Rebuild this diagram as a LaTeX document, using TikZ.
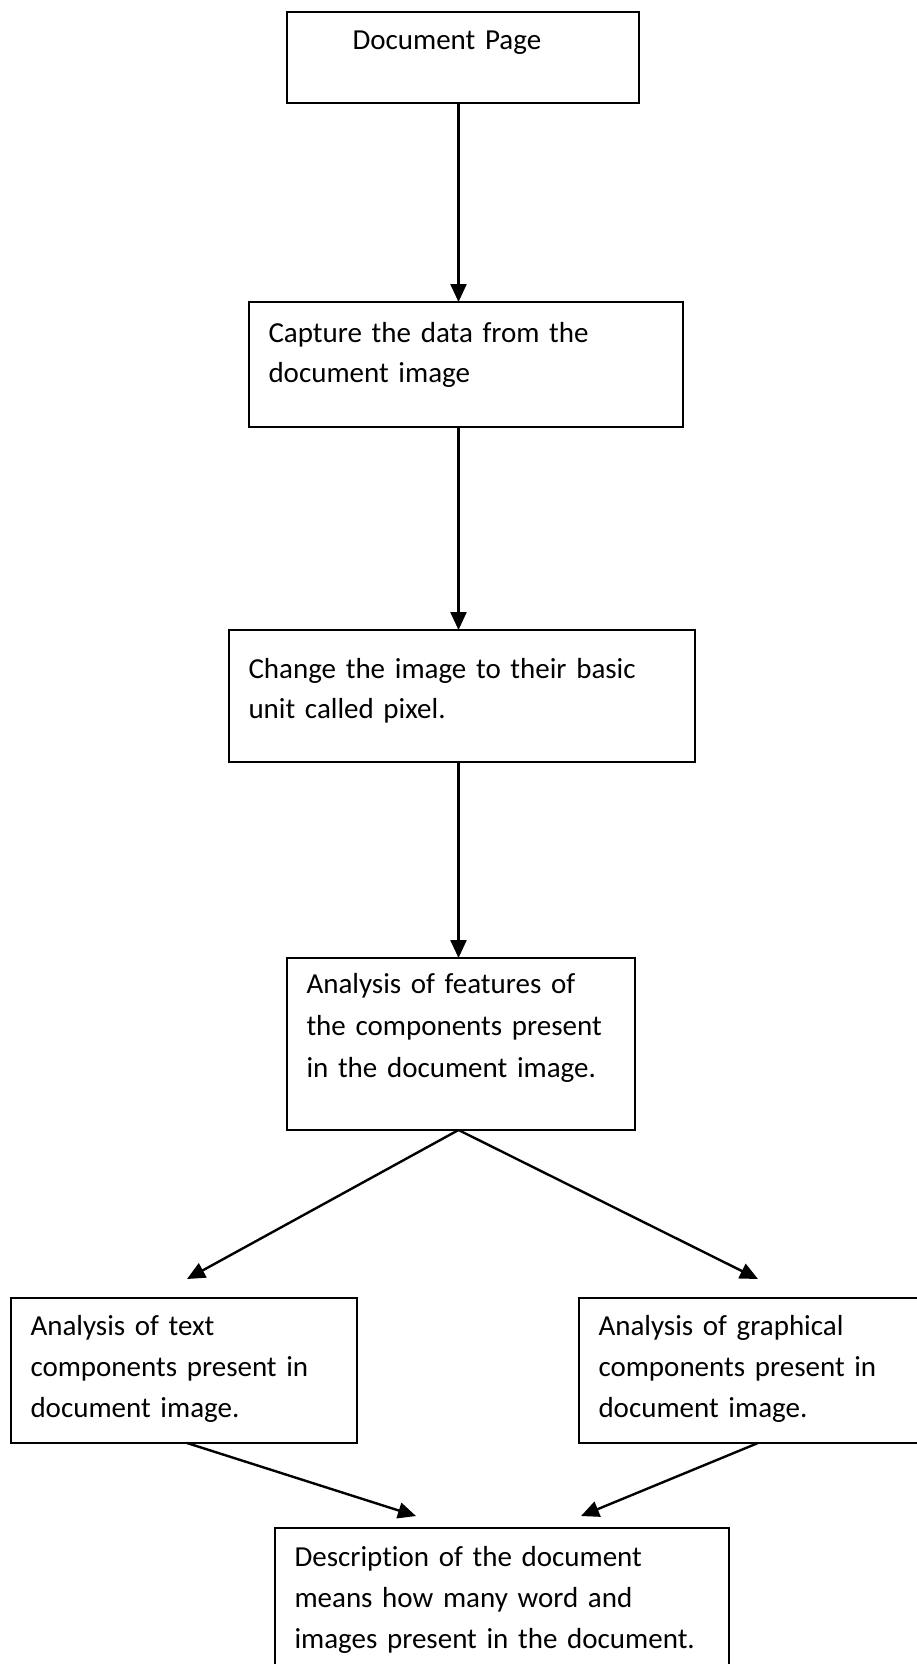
\documentclass[tikz,border=0pt]{standalone}
\usepackage{fontspec}
\setmainfont{Carlito}[Ligatures=CommonOff]
\usepackage{tikz}
\usetikzlibrary{arrows.meta}

\tikzset{
  stagebox/.style={draw,line width=2pt,inner xsep=19.5pt,inner ysep=0pt,
    outer sep=0pt,align=left,anchor=north west},
  flow/.style={line width=2.4pt,-{Triangle[length=18pt,width=16pt]}}
}

\begin{document}
\begin{tikzpicture}[x=1pt,y=1pt]
  \useasboundingbox (0,0) rectangle (916,-1664);
  % boxes: name/left/top/width/above first baseline/below it/line skip/text
  \foreach \nm/\xl/\yt/\bw/\toph/\botd/\lsk/\txt in {
      page/287/12/352/38/53/40/{\hspace*{46pt}Document Page},
      capture/249/302/434/40/85/40/{Capture the data from the\\document image},
      change/229/630/466/48/84/40/{Change the image to their basic\\unit called pixel.},
      feat/287/958/348/35/137/42/{Analysis of features of\\the components present\\in the document image.},
      txt/11/1298/346/37/108/41/{Analysis of text\\components present in\\document image.},
      gfx/579/1298/360/37/108/41/{Analysis of graphical\\components present in\\document image.},
      desc/275/1528/454/38/160/41/{Description of the document\\means how many word and\\images present in the document.}} {
    \node[stagebox,font=\fontsize{29}{\lsk}\selectfont,text width=\bw pt-39pt,
          text height=\toph pt,text depth=\botd pt] (\nm) at (\xl,-\yt) {\txt};
  }

  \coordinate (spine) at (458.5,0);
  \coordinate (tipL) at (187,-1279);
  \coordinate (tipR) at (758,-1279);
  \coordinate (endL) at (416,-1516);
  \coordinate (endR) at (581,-1516);

  \draw[flow] (page.south -| spine) -- (capture.north -| spine);
  \draw[flow] (capture.south -| spine) -- (change.north -| spine);
  \draw[flow] (change.south -| spine) -- (feat.north -| spine);
  \draw[flow] (feat.south -| spine) -- (tipL);
  \draw[flow] (feat.south -| spine) -- (tipR);
  \draw[flow] (txt.south -| tipL) -- (endL);
  \draw[flow] (gfx.south -| tipR) -- (endR);
\end{tikzpicture}
\end{document}
